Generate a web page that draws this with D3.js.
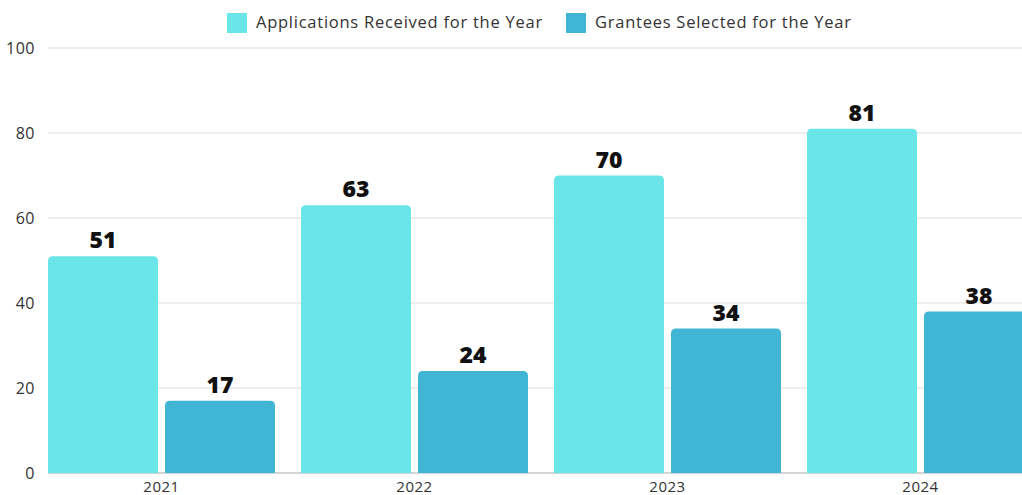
<!DOCTYPE html>
<html>
<head>
<meta charset="utf-8">
<script src="https://cdn.jsdelivr.net/npm/d3@7"></script>
<style>
  html, body { margin: 0; padding: 0; background: #fff; overflow: hidden; }
  svg { display: block; font-family: "Open Sans", sans-serif; }
</style>
</head>
<body>
<div id="viz"></div>
<script>
const years = ["2021", "2022", "2023", "2024"];
const applications = [51, 63, 70, 81];
const grantees = [17, 24, 34, 38];
const seriesNames = ["Applications Received for the Year", "Grantees Selected for the Year"];
const seriesColors = ["#6ae5e8", "#40b6d4"];
const yTicks = [0, 20, 40, 60, 80, 100];

function createChart() {
  const width = 1022;
  const height = 495;
  const left = 48;

  const svg = d3.select("#viz")
    .append("svg")
    .attr("width", width)
    .attr("height", height);

  const y = d3.scaleLinear().domain([0, 100]).range([473, 48]);

  // year bands run past the right edge like in the original
  const x0 = d3.scaleBand()
    .domain(years)
    .range([left, left + 986])
    .paddingInner(26 / 253)
    .paddingOuter(0);

  const x1 = d3.scaleBand()
    .domain([0, 1])
    .range([0, x0.bandwidth()])
    .paddingInner(7 / 117)
    .paddingOuter(0);

  // gridlines
  svg.selectAll("line.grid")
    .data(yTicks)
    .enter()
    .append("line")
    .classed("grid", true)
    .attr("x1", left)
    .attr("x2", width)
    .attr("y1", (d) => y(d))
    .attr("y2", (d) => y(d))
    .attr("stroke", (d) => (d === 0 ? "#aaa" : "#ddd"))
    .attr("stroke-width", 1);

  // y tick labels
  svg.selectAll("text.ytick")
    .data(yTicks)
    .enter()
    .append("text")
    .classed("ytick", true)
    .text((d) => d)
    .attr("x", 35)
    .attr("y", (d) => y(d) + 6)
    .style("text-anchor", "end")
    .style("font-size", "16px")
    .style("letter-spacing", "0.5px")
    .style("fill", "#333");

  const rows = [];
  years.forEach((yr, i) => {
    rows.push({ year: yr, s: 0, value: applications[i] });
    rows.push({ year: yr, s: 1, value: grantees[i] });
  });

  const r = 5;
  function barPath(d) {
    const bx = x0(d.year) + x1(d.s);
    const bw = x1.bandwidth();
    const top = y(d.value);
    const base = y(0);
    return `M${bx},${base}V${top + r}Q${bx},${top} ${bx + r},${top}` +
      `H${bx + bw - r}Q${bx + bw},${top} ${bx + bw},${top + r}V${base}Z`;
  }

  svg.selectAll("path.bar")
    .data(rows)
    .enter()
    .append("path")
    .classed("bar", true)
    .attr("d", barPath)
    .attr("fill", (d) => seriesColors[d.s]);

  // value labels
  svg.selectAll("text.value")
    .data(rows)
    .enter()
    .append("text")
    .classed("value", true)
    .text((d) => d.value)
    .attr("x", (d) => x0(d.year) + x1(d.s) + x1.bandwidth() / 2)
    .attr("y", (d) => y(d.value) - 8)
    .style("text-anchor", "middle")
    .style("font-size", "23px")
    .style("font-weight", "800")
    .style("fill", "#111");

  // year labels
  svg.selectAll("text.year")
    .data(years)
    .enter()
    .append("text")
    .classed("year", true)
    .text((d) => d)
    .attr("x", (d) => x0(d) + x0.bandwidth() / 2)
    .attr("y", 492)
    .style("text-anchor", "middle")
    .style("font-size", "15px")
    .style("letter-spacing", "0.5px")
    .style("fill", "#333");

  // legend
  const legendX = [227, 566];
  const legend = svg.selectAll("g.legend")
    .data(seriesNames)
    .enter()
    .append("g")
    .classed("legend", true)
    .attr("transform", (d, i) => `translate(${legendX[i]},13)`);

  legend.append("rect")
    .attr("width", 20)
    .attr("height", 20)
    .attr("fill", (d, i) => seriesColors[i]);

  legend.append("text")
    .text((d) => d)
    .attr("x", 29)
    .attr("y", 15)
    .style("font-size", "16.5px")
    .style("letter-spacing", "0.75px")
    .style("fill", "#333");
}

createChart();
</script>
</body>
</html>
